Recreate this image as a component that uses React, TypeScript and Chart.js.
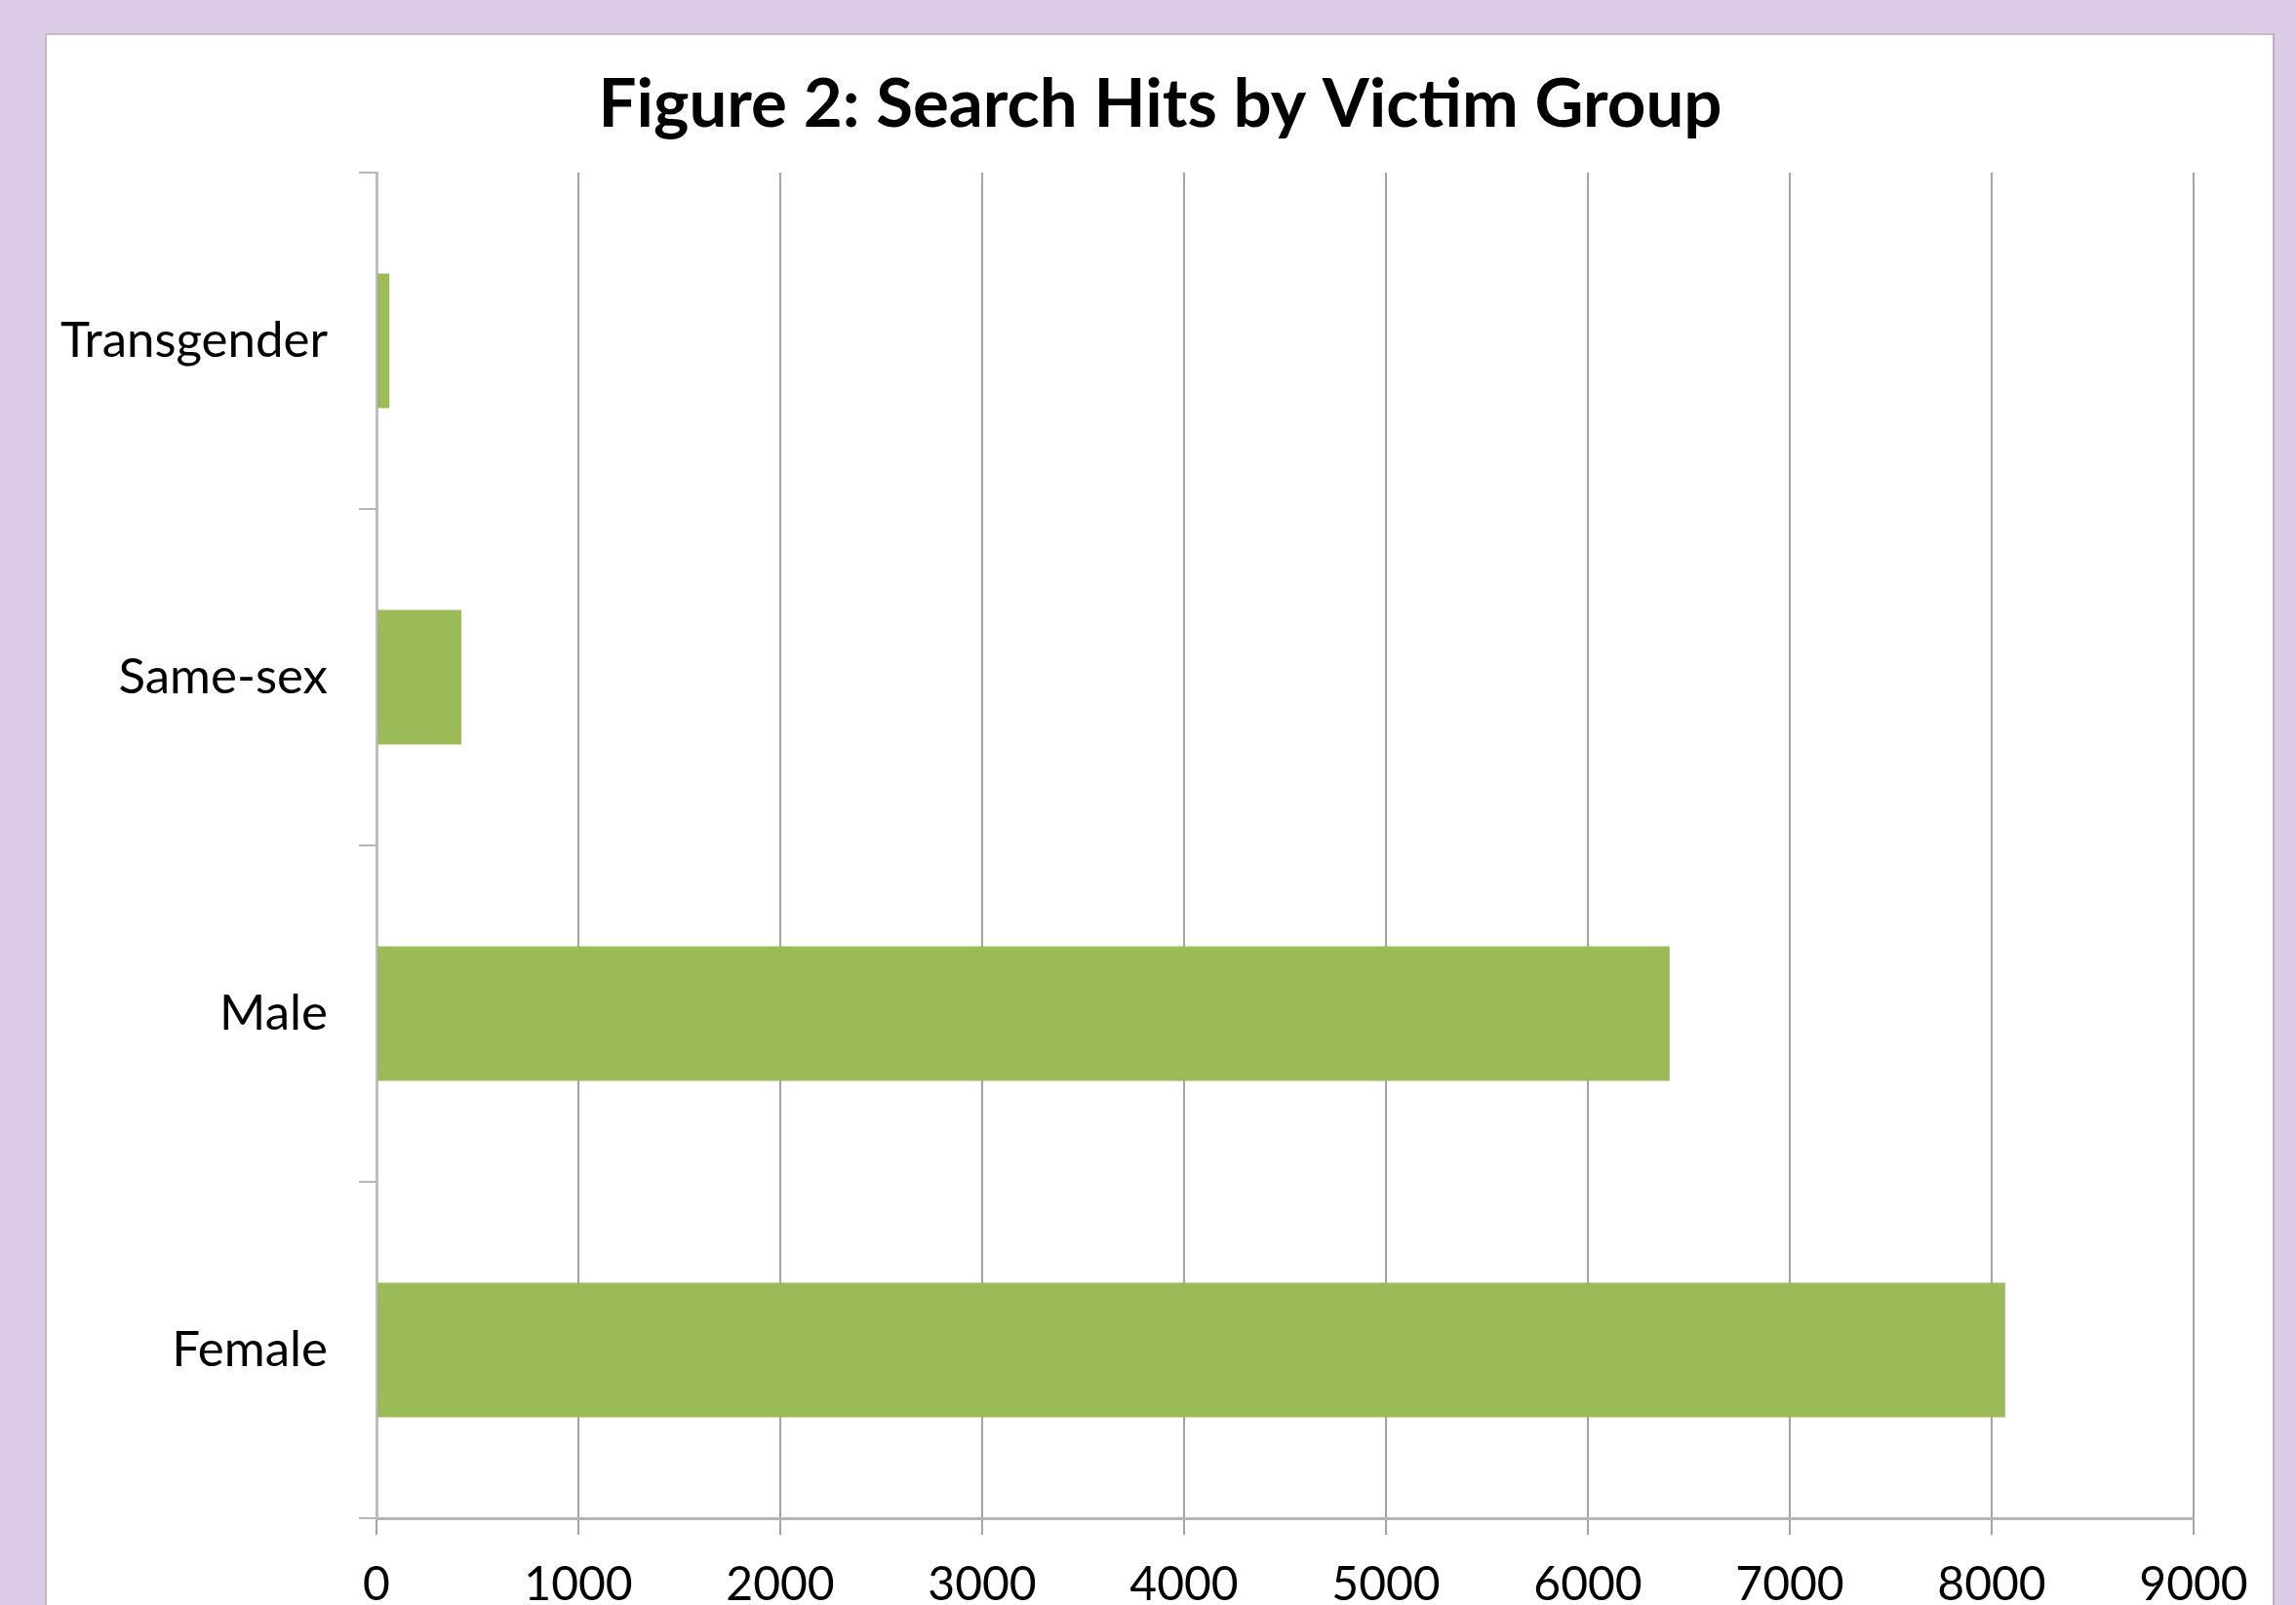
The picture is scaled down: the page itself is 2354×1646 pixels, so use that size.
import React, { useEffect, useRef } from "react";
import { Chart, registerables } from "chart.js";

Chart.register(...registerables);

// ZWNJ between "t" and "i" keeps Lato from using its "ti" ligature
const TITLE = "Figure 2: Search Hits by Vic\u200Ctim Group";
const categories = ["Transgender", "Same-sex", "Male", "Female"];
const hits = [64, 420, 6405, 8067];
const xMin = 0;
const xMax = 9000;
const xStep = 1000;

const BAR_COLOR = "#9BBB59";
const FONT = "Lato, 'Open Sans', sans-serif";

export default function App() {
  const ref = useRef<HTMLCanvasElement | null>(null);

  useEffect(() => {
    if (!ref.current) return;
    const chart = new Chart(ref.current, {
      type: "bar",
      data: {
        labels: categories,
        datasets: [
          {
            data: hits,
            backgroundColor: BAR_COLOR,
            borderWidth: 0,
            categoryPercentage: 1,
            barPercentage: 0.4,
            xAxisID: "x",
            yAxisID: "y",
          },
        ],
      },
      options: {
        indexAxis: "y",
        responsive: false,
        maintainAspectRatio: false,
        animation: false,
        layout: { padding: 0 },
        plugins: {
          legend: { display: false },
          tooltip: { enabled: false },
          title: {
            display: true,
            text: TITLE,
            color: "#000",
            font: { family: FONT, size: 69, weight: "bold", lineHeight: 1.2 },
            padding: { top: 31, bottom: 28.2 },
          },
        },
        scales: {
          x: {
            type: "linear",
            min: xMin,
            max: xMax,
            ticks: {
              stepSize: xStep,
              color: "#000",
              font: { family: FONT, size: 48 },
              padding: 23,
              maxRotation: 0,
              callback: (v: any) => String(v),
            },
            grid: {
              color: "#a3a3a3",
              lineWidth: 2,
              tickLength: 17,
              drawTicks: true,
            },
            border: { color: "#b5b5b5", width: 3 },
            afterFit: (s: any) => {
              s.height = 89;
            },
          },
          y: {
            type: "category",
            position: "left",
            ticks: {
              color: "#000",
              font: { family: FONT, size: 51 },
              padding: 32,
            },
            grid: {
              drawOnChartArea: false,
              drawTicks: true,
              tickLength: 18,
              offset: true,
              color: "#b5b5b5",
              lineWidth: 2,
            },
            border: { color: "#bdbdbd", width: 3 },
            afterFit: (s: any) => {
              s.width = 339;
            },
          },
          spacer: {
            type: "linear",
            position: "right",
            display: true,
            ticks: { display: false },
            grid: { display: false },
            border: { display: false },
            afterFit: (s: any) => {
              s.width = 83;
            },
          },
        },
      },
    });
    return () => chart.destroy();
  }, []);

  return (
    <div
      style={{
        position: "fixed",
        left: 0,
        top: 0,
        width: "100vw",
        height: "100vh",
        overflow: "hidden",
        background: "#dccbe6",
      }}
    >
      <div
        style={{
          position: "absolute",
          left: 46,
          top: 34,
          width: 2286,
          height: 1700,
          background: "#ffffff",
          boxSizing: "border-box",
          borderTop: "2px solid #c4bacb",
          borderLeft: "2px solid #c4bacb",
          borderRight: "2px solid #b9b0c0",
        }}
      />
      <canvas
        ref={ref}
        width={2285}
        height={1611}
        style={{ position: "absolute", left: 47, top: 35, width: 2285, height: 1611 }}
      />
    </div>
  );
}
